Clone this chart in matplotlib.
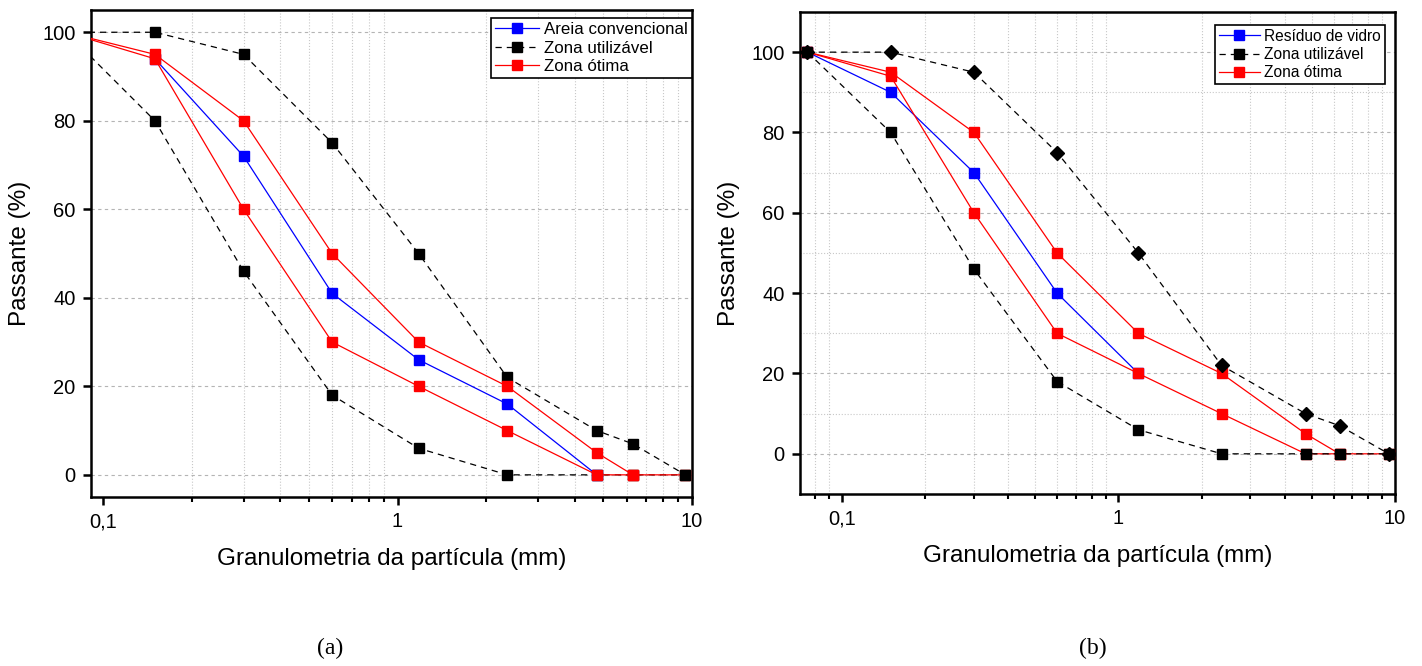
import matplotlib.pyplot as plt
from matplotlib.ticker import FixedLocator, FixedFormatter, MultipleLocator, NullFormatter
from matplotlib.lines import Line2D

plt.rcParams['font.family'] = ['Liberation Sans', 'DejaVu Sans']

# peneiras (mm)
sieves = [0.075, 0.15, 0.3, 0.6, 1.18, 2.36, 4.75, 6.3, 9.5]

# limites da NBR 7211 (mesmos nos dois gráficos)
util_upper = [100, 100, 95, 75, 50, 22, 10, 7, 0]
util_lower = [100, 80, 46, 18, 6, 0, 0, 0, 0]
otima_upper = [100, 95, 80, 50, 30, 20, 5, 0]
otima_lower = [100, 94, 60, 30, 20, 10, 0, 0, 0]

# (a) areia convencional
areia_x = [0.15, 0.3, 0.6, 1.18, 2.36, 4.75]
areia_y = [94, 72, 41, 26, 16, 0]

# (b) resíduo de vidro
vidro_x = [0.075, 0.15, 0.3, 0.6, 1.18]
vidro_y = [100, 90, 70, 40, 20]

xticks = [0.1, 1, 10]
xticklabels = ['0,1', '1', '10']
yticks = [0, 20, 40, 60, 80, 100]

fig = plt.figure(figsize=(14.22, 6.66), dpi=100)
ax1 = fig.add_axes([0.064, 0.2538, 0.4226, 0.731])
ax2 = fig.add_axes([0.5626, 0.2583, 0.4184, 0.7237])

dash = (0, (5, 4))
ms = 7.5
lw = 0.9


def style_axes(ax, xmin, ymin, ymax, yminor):
    ax.set_xscale('log')
    ax.set_xlim(xmin, 10)
    ax.set_ylim(ymin, ymax)
    ax.xaxis.set_major_locator(FixedLocator(xticks))
    ax.xaxis.set_major_formatter(FixedFormatter(xticklabels))
    ax.xaxis.set_minor_formatter(NullFormatter())
    ax.set_yticks(yticks)
    if yminor:
        ax.yaxis.set_minor_locator(MultipleLocator(10))
        ax.grid(True, which='minor', axis='y', linestyle=':', color='#c8c8c8', linewidth=0.8)
    ax.grid(True, which='minor', axis='x', linestyle=':', color='#c8c8c8', linewidth=0.8)
    ax.grid(True, which='major', axis='y', linestyle=(0, (3, 3)), color='#b4b4b4', linewidth=0.8)
    ax.set_axisbelow(True)
    for s in ax.spines.values():
        s.set_linewidth(1.8)
    ax.tick_params(axis='both', which='major', direction='out', length=6, width=1.8,
                   labelsize=14.5, pad=5)
    ax.tick_params(axis='x', which='minor', direction='out', length=3.5, width=1.5)
    ax.tick_params(axis='y', which='minor', length=0)
    ax.set_xlabel('Granulometria da partícula (mm)', fontsize=17.5, labelpad=12)
    ax.set_ylabel('Passante (%)', fontsize=17.5, labelpad=8)


# ---- (a)
ax1.plot(areia_x, areia_y, color='blue', lw=lw, marker='s', ms=ms, zorder=2)
ax1.plot(sieves, util_lower, color='black', lw=lw, ls=dash, marker='s', ms=ms, zorder=2.5)
ax1.plot(sieves, otima_lower, color='red', lw=lw, marker='s', ms=ms, zorder=3)
ax1.plot(sieves, util_upper, color='black', lw=lw, ls=dash, marker='s', ms=ms, zorder=3.5)
ax1.plot(sieves[:len(otima_upper)], otima_upper, color='red', lw=lw, marker='s', ms=ms, zorder=4)
style_axes(ax1, 0.091, -5, 105, False)

h_a = [Line2D([], [], color='blue', lw=lw, marker='s', ms=ms),
       Line2D([], [], color='black', lw=lw, ls=dash, marker='s', ms=ms),
       Line2D([], [], color='red', lw=lw, marker='s', ms=ms)]
leg = ax1.legend(h_a, ['Areia convencional', 'Zona utilizável', 'Zona ótima'],
                 loc='upper right', bbox_to_anchor=(1.0, 1 - 8 / 487), borderaxespad=0,
                 fontsize=12.2, fancybox=False, framealpha=1, edgecolor='black',
                 handlelength=2.6, handletextpad=0.3, labelspacing=0.2, borderpad=0.25)
leg.get_frame().set_linewidth(1.2)

# ---- (b)
ax2.plot(vidro_x, vidro_y, color='blue', lw=lw, marker='s', ms=ms, zorder=2)
ax2.plot(sieves, otima_lower, color='red', lw=lw, marker='s', ms=ms, zorder=3)
ax2.plot(sieves[:len(otima_upper)], otima_upper, color='red', lw=lw, marker='s', ms=ms, zorder=3)
ax2.plot(sieves, util_lower, color='black', lw=lw, ls=dash, marker='s', ms=ms, zorder=4)
ax2.plot(sieves, util_upper, color='black', lw=lw, ls=dash, marker='D', ms=ms, zorder=4.5)
style_axes(ax2, 0.0705, -10, 110, True)

h_b = [Line2D([], [], color='blue', lw=lw, marker='s', ms=ms),
       Line2D([], [], color='black', lw=lw, ls=dash, marker='s', ms=ms),
       Line2D([], [], color='red', lw=lw, marker='s', ms=ms)]
leg = ax2.legend(h_b, ['Resíduo de vidro', 'Zona utilizável', 'Zona ótima'],
                 loc='upper right', bbox_to_anchor=(1 - 10 / 595, 1 - 13 / 482), borderaxespad=0,
                 fontsize=11.2, fancybox=False, framealpha=1, edgecolor='black',
                 handlelength=2.6, handletextpad=0.3, labelspacing=0.2, borderpad=0.25)
leg.get_frame().set_linewidth(1.2)

fig.text(330 / 1422, 1 - 648 / 666, '(a)', family='Liberation Serif', fontsize=17,
         ha='center', va='center')
fig.text(1093 / 1422, 1 - 648 / 666, '(b)', family='Liberation Serif', fontsize=17,
         ha='center', va='center')

fig.savefig('out.png', dpi=100)
